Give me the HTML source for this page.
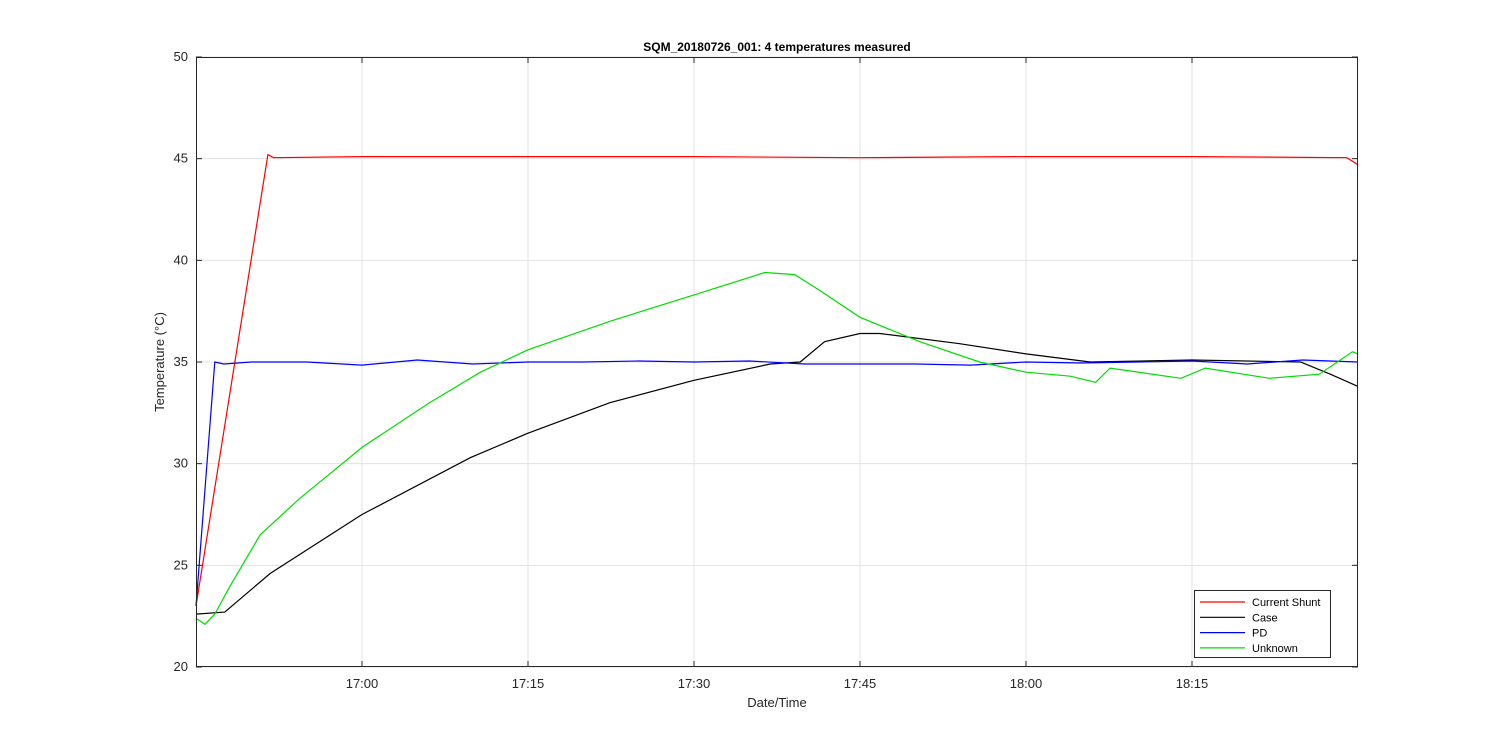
<!DOCTYPE html>
<html><head><meta charset="utf-8"><style>
body{margin:0;background:#fff;}
svg{display:block;font-family:"Liberation Sans",Arial,sans-serif;}
</style></head><body>
<svg id="chart" width="1500" height="750"></svg>
<script>
const yTicks=[20,25,30,35,40,45,50];
const xTickMinutes=[60,75,90,105,120,135];
const xTickLabels=["17:00","17:15","17:30","17:45","18:00","18:15"];
const seriesNames=["Current Shunt","Case","PD","Unknown"];
const seriesColors=["#ff0000","#000000","#0000ff","#00dd00"];
const shuntT=[45,51.5,52,60,75,90,105,120,135,149,150];
const shuntV=[23,45.2,45.05,45.1,45.1,45.1,45.05,45.1,45.1,45.05,44.7];
const caseT=[45,47.6,51.7,60,69.8,75,82.4,90,96.9,99.6,101.8,105,106.8,114,120,125.8,135,144.8,147.5,150];
const caseV=[22.6,22.7,24.6,27.5,30.3,31.5,33.0,34.1,34.9,35.0,36.0,36.4,36.4,35.9,35.4,35.0,35.1,35.0,34.4,33.8];
const pdT=[45,46.7,47.5,50,55,60,65,70,75,80,85,90,95,100,105,110,115,120,125,130,135,140,145,150];
const pdV=[23,35.0,34.9,35.0,35.0,34.85,35.1,34.9,35.0,35.0,35.05,35.0,35.05,34.9,34.9,34.9,34.85,35.0,34.95,35.0,35.05,34.9,35.1,35.0];
const unkT=[45,45.8,46.7,48.1,50.8,54.4,57.1,60,66.1,70.7,75,82.4,90,96.4,99.1,101.4,105,110.4,115.8,120,124,126.3,127.6,134,136.2,142,146.5,149.5,150];
const unkV=[22.4,22.1,22.6,24.0,26.5,28.3,29.5,30.8,33.0,34.5,35.6,37.0,38.3,39.4,39.3,38.5,37.2,36.0,35.0,34.5,34.3,34.0,34.7,34.2,34.7,34.2,34.4,35.5,35.4];
const allT=[shuntT,caseT,pdT,unkT], allV=[shuntV,caseV,pdV,unkV];

const L=196,R=1358,T=57,B=667;
const x=m=>196+(m-45)*166/15;
const y=v=>B-(v-20)*(B-T)/30;
const svg=document.getElementById('chart');
const NS="http://www.w3.org/2000/svg";
function mk(tag,attrs,parent){const e=document.createElementNS(NS,tag);for(const k in attrs)e.setAttribute(k,attrs[k]);(parent||svg).appendChild(e);return e;}

mk('rect',{x:L,y:T,width:R-L,height:B-T,fill:'#fff'});
yTicks.forEach(v=>{
  const g=mk('line',{x1:L,x2:R,y1:y(v),y2:y(v),stroke:'#e3e3e3','stroke-width':1});
  
  
  mk('line',{x1:L,x2:L+6,y1:y(v),y2:y(v),stroke:'#262626'});
  mk('line',{x1:R-6,x2:R,y1:y(v),y2:y(v),stroke:'#262626'});
  const t=mk('text',{x:L-8,y:y(v)+4,'text-anchor':'end','font-size':13,fill:'#262626'});
  t.textContent=v;
  
  
});
xTickMinutes.forEach((m,i)=>{
  const g=mk('line',{x1:x(m),x2:x(m),y1:T,y2:B,stroke:'#e3e3e3','stroke-width':1});
  
  
  mk('line',{x1:x(m),x2:x(m),y1:B-6,y2:B,stroke:'#262626'});
  mk('line',{x1:x(m),x2:x(m),y1:T,y2:T+6,stroke:'#262626'});
  const t=mk('text',{x:x(m),y:B+21,'text-anchor':'middle','font-size':13,fill:'#262626'});
  t.textContent=xTickLabels[i];
  
  
});
allT.forEach((ts,i)=>{
  const d=ts.map((m,j)=>(j?'L':'M')+x(m).toFixed(1)+','+y(allV[i][j]).toFixed(1)).join(' ');
  const p=mk('path',{d:d,fill:'none',stroke:seriesColors[i],'stroke-width':1.2});
  
  
});
const box=mk('rect',{x:L+0.5,y:T+0.5,width:R-L-1,height:B-T-1,fill:'none',stroke:'#262626'});



const title=mk('text',{x:(L+R)/2,y:51,'text-anchor':'middle','font-size':12,'font-weight':'bold',fill:'#000'});
title.textContent='SQM_20180726_001: 4 temperatures measured';


const xl=mk('text',{x:(L+R)/2,y:707,'text-anchor':'middle','font-size':13,fill:'#262626'});
xl.textContent='Date/Time';


const yl=mk('text',{x:0,y:0,transform:'translate(164,362) rotate(-90)','text-anchor':'middle','font-size':13,fill:'#262626'});
yl.textContent='Temperature (°C)';



const lg=mk('g',{});


mk('rect',{x:1194.5,y:590.5,width:136,height:67,fill:'#fff',stroke:'#262626'},lg);
seriesNames.forEach((n,i)=>{
  const yy=602+i*15.3;
  const e=mk('g',{},lg);
  
  
  mk('line',{x1:1200,x2:1245,y1:yy,y2:yy,stroke:seriesColors[i],'stroke-width':1.2},e);
  const t=mk('text',{x:1252,y:yy+4,'font-size':11,fill:'#000'},e);
  t.textContent=n;
});
</script>
</body></html>
